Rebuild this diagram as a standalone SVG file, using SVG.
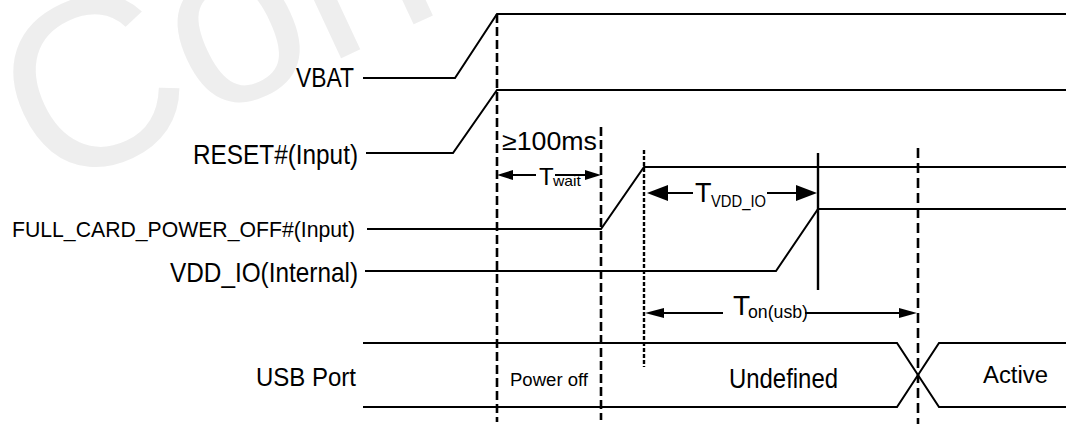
<svg xmlns="http://www.w3.org/2000/svg" width="1066" height="424" viewBox="0 0 1066 424">
<style>
text{font-family:"Liberation Sans",Arial,sans-serif;fill:#000}
.sig{fill:none;stroke:#000;stroke-width:2}
.dash{fill:none;stroke:#000;stroke-width:2.6;stroke-dasharray:9 4}
.dashf{fill:none;stroke:#000;stroke-width:2.4;stroke-dasharray:4 2}
.shaft{stroke:#000;stroke-width:2}
.head{fill:#000}
.wm{fill:#eeeeee}
</style>
<rect width="1066" height="424" fill="#fff"/>
<text class="wm" font-size="240" transform="translate(48,195) rotate(-25)">Con</text>

<g id="vbat">
<text x="296" y="87" font-size="28" textLength="58" lengthAdjust="spacingAndGlyphs">VBAT</text>
<path class="sig" d="M363,78 H455 L497,14 H1066"/>
</g>
<g id="reset">
<text x="193" y="164" font-size="27" textLength="165" lengthAdjust="spacingAndGlyphs">RESET#(Input)</text>
<path class="sig" d="M366,153 H453 L497,90 H1066"/>
</g>
<g id="full_card">
<text x="12" y="237" font-size="22" textLength="343" lengthAdjust="spacingAndGlyphs">FULL_CARD_POWER_OFF#(Input)</text>
<path class="sig" d="M367,229 H601 L644,167 H1066"/>
</g>
<g id="vdd_io">
<text x="170" y="282" font-size="28" textLength="188" lengthAdjust="spacingAndGlyphs">VDD_IO(Internal)</text>
<path class="sig" d="M365,271 H776 L818,209 H1066"/>
</g>
<g id="usb">
<text x="256" y="386" font-size="25" textLength="100" lengthAdjust="spacingAndGlyphs">USB Port</text>
<path class="sig" d="M363,343 H897 L939,407 H1066"/>
<path class="sig" d="M363,407 H897 L939,343 H1066"/>
<text x="510" y="386" font-size="18" textLength="78" lengthAdjust="spacingAndGlyphs">Power off</text>
<text x="729" y="388" font-size="27" textLength="109" lengthAdjust="spacingAndGlyphs">Undefined</text>
<text x="983" y="383" font-size="23" textLength="65" lengthAdjust="spacingAndGlyphs">Active</text>
</g>

<g id="connectors">
<line class="dash" x1="497" y1="14" x2="497" y2="422"/>
<line class="dash" x1="601" y1="127" x2="601" y2="420"/>
<line class="dashf" x1="644" y1="150" x2="644" y2="367"/>
<line class="dash" x1="918" y1="148" x2="918" y2="424" style="stroke-dasharray:10 5"/>
<line class="shaft" x1="818" y1="153" x2="818" y2="290" style="stroke-width:2.4"/>

<g id="twait">
<polygon class="head" points="497,175 513,170 513,180"/>
<line class="shaft" x1="513" y1="175" x2="536" y2="175"/>
<line class="shaft" x1="555" y1="175" x2="587" y2="175"/>
<polygon class="head" points="601,175 585,170 585,180"/>
<text x="539" y="185" font-size="24">T</text>
<text x="553" y="186" font-size="15" textLength="28" lengthAdjust="spacingAndGlyphs">wait</text>
<text x="502" y="150" font-size="25" textLength="95" lengthAdjust="spacingAndGlyphs">≥100ms</text>
</g>
<g id="tvddio">
<polygon class="head" points="647,193 668,185 668,201"/>
<line class="shaft" x1="668" y1="193" x2="693" y2="193"/>
<line class="shaft" x1="767" y1="193" x2="798" y2="193"/>
<polygon class="head" points="817,193 796,185 796,201"/>
<text x="695" y="202" font-size="27">T</text>
<text x="711" y="207" font-size="17" textLength="55" lengthAdjust="spacingAndGlyphs">VDD_IO</text>
</g>
<g id="tonusb">
<polygon class="head" points="645,313 664,308 664,318"/>
<line class="shaft" x1="664" y1="313" x2="723" y2="313"/>
<line class="shaft" x1="805" y1="313" x2="900" y2="313"/>
<polygon class="head" points="917,313 899,308 899,318"/>
<text x="733" y="315" font-size="28">T</text>
<text x="748" y="318" font-size="18" textLength="60" lengthAdjust="spacingAndGlyphs">on(usb)</text>
</g>
</g>
</svg>
